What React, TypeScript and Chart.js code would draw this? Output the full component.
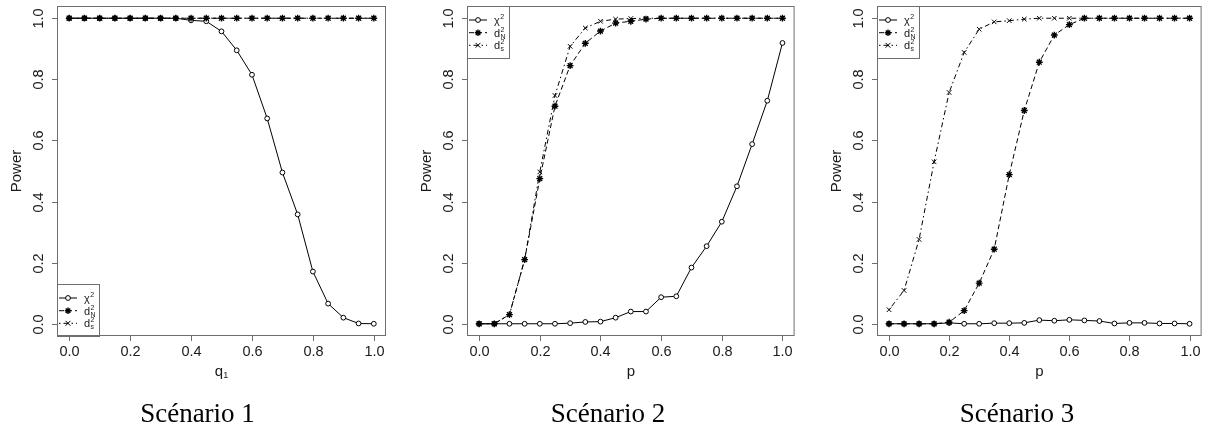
import { useEffect, useRef } from 'react';
import { Chart, registerables } from 'chart.js';

Chart.register(...registerables);

// ---------- data ----------
const X_VALUES = [0, 0.05, 0.1, 0.15, 0.2, 0.25, 0.3, 0.35, 0.4, 0.45, 0.5, 0.55, 0.6, 0.65, 0.7, 0.75, 0.8, 0.85, 0.9, 0.95, 1];
const X_TICKS = [0, 0.2, 0.4, 0.6, 0.8, 1];
const X_TICK_LABELS = ['0.0', '0.2', '0.4', '0.6', '0.8', '1.0'];
const Y_TICKS = [0, 0.2, 0.4, 0.6, 0.8, 1];
const Y_TICK_LABELS = ['0.0', '0.2', '0.4', '0.6', '0.8', '1.0'];

const S1_CHI2 = [1, 1, 1, 1, 1, 1, 1, 1, 0.993, 0.99, 0.957, 0.895, 0.815, 0.672, 0.495, 0.358, 0.171, 0.066, 0.02, 0.001, 0.0];
const S1_D2 = [1, 1, 1, 1, 1, 1, 1, 1, 1, 1, 1, 1, 1, 1, 1, 1, 1, 1, 1, 1, 1];
const S1_D2S = [1, 1, 1, 1, 1, 1, 1, 1, 1, 1, 1, 1, 1, 1, 1, 1, 1, 1, 1, 1, 1];

const S2_CHI2 = [0, 0, 0, 0, 0, 0, 0.002, 0.006, 0.007, 0.02, 0.04, 0.04, 0.087, 0.09, 0.184, 0.254, 0.334, 0.45, 0.588, 0.73, 0.919];
const S2_D2 = [0, 0, 0.03, 0.21, 0.475, 0.712, 0.845, 0.918, 0.958, 0.984, 0.99, 0.997, 1, 1, 1, 1, 1, 1, 1, 1, 1];
const S2_D2S = [0, 0, 0.03, 0.21, 0.497, 0.747, 0.908, 0.968, 0.99, 0.997, 0.999, 1, 1, 1, 1, 1, 1, 1, 1, 1, 1];

const S3_CHI2 = [0, 0, 0, 0, 0.003, 0, 0, 0.002, 0.002, 0.003, 0.012, 0.01, 0.013, 0.011, 0.009, 0.001, 0.003, 0.003, 0.001, 0.001, 0];
const S3_D2 = [0, 0, 0, 0, 0.005, 0.043, 0.133, 0.244, 0.488, 0.698, 0.856, 0.945, 0.979, 1, 1, 1, 1, 1, 1, 1, 1];
const S3_D2S = [0.046, 0.109, 0.276, 0.53, 0.757, 0.888, 0.964, 0.988, 0.992, 0.997, 1, 1, 1, 1, 1, 1, 1, 1, 1, 1, 1];

const LEGEND_MAIN = ['\u03C7', 'd', 'd'];
const LEGEND_SUP = ['2', '2', '2'];
const LEGEND_SUB = ['', 'N', 's'];

const CAPTIONS = ['Scénario 1', 'Scénario 2', 'Scénario 3'];
const X_TITLES = ['q', 'p', 'p'];
const X_TITLE_SUBS = ['1', '', ''];
const Y_TITLE = 'Power';

// ---------- styles ----------
const SANS = '"Liberation Sans", Arial, Helvetica, sans-serif';
const SERIF = '"Liberation Serif", "DejaVu Serif", serif';
const BOX_COLOR = '#6e6e6e';
const TEXT_COLOR = '#1a1a1a';
const DASH_SOLID: number[] = [];
const DASH_DASHED = [5, 3];
const DASH_DOTDASH = [1.5, 3, 5, 3];

type SeriesStyle = { dash: number[]; point: string };
const STYLES: SeriesStyle[] = [
  { dash: DASH_SOLID, point: 'circle' },
  { dash: DASH_DASHED, point: 'star' },
  { dash: DASH_DOTDASH, point: 'crossRot' },
];

function drawMarker(ctx: CanvasRenderingContext2D, kind: string, x: number, y: number) {
  ctx.save();
  ctx.setLineDash([]);
  ctx.strokeStyle = '#000';
  ctx.lineWidth = 1;
  if (kind === 'circle') {
    ctx.fillStyle = '#fff';
    ctx.beginPath();
    ctx.arc(x, y, 2.4, 0, Math.PI * 2);
    ctx.fill();
    ctx.stroke();
  } else if (kind === 'star') {
    const r = 3.2;
    ctx.lineWidth = 1.4;
    ctx.beginPath();
    ctx.moveTo(x - r, y); ctx.lineTo(x + r, y);
    ctx.moveTo(x, y - r); ctx.lineTo(x, y + r);
    const d = r * 0.707;
    ctx.moveTo(x - d, y - d); ctx.lineTo(x + d, y + d);
    ctx.moveTo(x - d, y + d); ctx.lineTo(x + d, y - d);
    ctx.stroke();
  } else {
    const d = 2.4;
    ctx.beginPath();
    ctx.moveTo(x - d, y - d); ctx.lineTo(x + d, y + d);
    ctx.moveTo(x - d, y + d); ctx.lineTo(x + d, y - d);
    ctx.stroke();
  }
  ctx.restore();
}

const rPlotPlugin = {
  id: 'rplot',
  afterDraw(chart: any, _args: any, opts: any) {
    const ctx: CanvasRenderingContext2D = chart.ctx;
    const { left, right, top, bottom } = chart.chartArea;
    const xs = chart.scales.x;
    const ys = chart.scales.y;
    ctx.save();
    // box
    ctx.strokeStyle = BOX_COLOR;
    ctx.lineWidth = 1;
    ctx.setLineDash([]);
    ctx.strokeRect(left + 0.5, top + 0.5, right - left - 1, bottom - top - 1);
    // x ticks
    ctx.fillStyle = TEXT_COLOR;
    ctx.font = `14.5px ${SANS}`;
    ctx.textAlign = 'center';
    ctx.textBaseline = 'middle';
    X_TICKS.forEach((v, i) => {
      const px = Math.round(xs.getPixelForValue(v)) + 0.5;
      ctx.beginPath();
      ctx.moveTo(px, bottom);
      ctx.lineTo(px, bottom + 5);
      ctx.stroke();
      ctx.fillText(X_TICK_LABELS[i], px, bottom + 16);
    });
    // y ticks
    Y_TICKS.forEach((v, i) => {
      const py = Math.round(ys.getPixelForValue(v)) + 0.5;
      ctx.beginPath();
      ctx.moveTo(left - 5, py);
      ctx.lineTo(left, py);
      ctx.stroke();
      ctx.save();
      ctx.translate(left - 18.5, py);
      ctx.rotate(-Math.PI / 2);
      ctx.fillText(Y_TICK_LABELS[i], 0, 0);
      ctx.restore();
    });
    // y title
    ctx.font = `15px ${SANS}`;
    ctx.save();
    ctx.translate(left - 40, (top + bottom) / 2);
    ctx.rotate(-Math.PI / 2);
    ctx.fillText(Y_TITLE, 0, 0);
    ctx.restore();
    // x title
    const cx = (left + right) / 2;
    const main = opts.xTitle as string;
    const sub = opts.xTitleSub as string;
    ctx.font = `15px ${SANS}`;
    const wMain = ctx.measureText(main).width;
    ctx.font = `9px ${SANS}`;
    const wSub = sub ? ctx.measureText(sub).width : 0;
    const startX = cx - (wMain + wSub) / 2;
    ctx.textAlign = 'left';
    ctx.textBaseline = 'alphabetic';
    ctx.font = `15px ${SANS}`;
    ctx.fillText(main, startX, bottom + 40);
    if (sub) {
      ctx.font = `9px ${SANS}`;
      ctx.fillText(sub, startX + wMain, bottom + 42);
    }
    // legend
    const lw = 42;
    const lh = 52;
    const lx = left;
    const ly = opts.legendBottom ? bottom - lh : top;
    ctx.strokeStyle = BOX_COLOR;
    ctx.strokeRect(lx + 0.5, ly + 0.5, lw, lh);
    const rows = [14, 26.7, 39.3];
    rows.forEach((ry, i) => {
      const yy = ly + ry;
      ctx.save();
      ctx.strokeStyle = '#000';
      ctx.lineWidth = 1;
      ctx.setLineDash(STYLES[i].dash);
      ctx.beginPath();
      ctx.moveTo(lx + 2, yy);
      ctx.lineTo(lx + 20, yy);
      ctx.stroke();
      ctx.restore();
      drawMarker(ctx, STYLES[i].point, lx + 11, yy);
      ctx.fillStyle = TEXT_COLOR;
      ctx.textAlign = 'left';
      ctx.textBaseline = 'alphabetic';
      ctx.font = `11px ${SANS}`;
      const tx = lx + 27;
      ctx.fillText(LEGEND_MAIN[i], tx, yy + 4);
      const mw = ctx.measureText(LEGEND_MAIN[i]).width;
      ctx.font = `7px ${SANS}`;
      ctx.fillText(LEGEND_SUP[i], tx + mw + 0.5, yy - 1);
      if (LEGEND_SUB[i]) ctx.fillText(LEGEND_SUB[i], tx + mw + 0.5, yy + 6);
    });
    // caption
    ctx.fillStyle = '#000';
    ctx.font = `27px ${SERIF}`;
    ctx.textAlign = 'center';
    ctx.textBaseline = 'alphabetic';
    ctx.fillText(opts.caption, opts.captionX, 422);
    ctx.restore();
  },
};

type PanelProps = {
  left: number;
  width: number;
  padLeft: number;
  padRight: number;
  chi2: number[];
  d2: number[];
  d2s: number[];
  idx: number;
  legendBottom: boolean;
  captionX: number;
};

const HEIGHT = 427;
const PLOT_TOP = 6;
const PLOT_BOTTOM = 336;

function Panel(p: PanelProps) {
  const ref = useRef<HTMLCanvasElement | null>(null);
  useEffect(() => {
    if (!ref.current) return;
    const series = [p.chi2, p.d2, p.d2s];
    const labels = ['chi2', 'd2', 'd2s'];
    const mk = (i: number) => {
      const st = STYLES[i];
      return {
        label: labels[i],
        data: X_VALUES.map((x, k) => ({ x, y: series[i][k] })),
        borderColor: '#000',
        borderWidth: 1,
        borderDash: st.dash,
        pointStyle: st.point,
        pointRadius: st.point === 'circle' ? 2.4 : st.point === 'star' ? 3.4 : 3.2,
        pointBorderWidth: st.point === 'star' ? 1.4 : 1,
        pointBorderColor: '#000',
        pointBackgroundColor: '#fff',
        fill: false,
        tension: 0,
      };
    };
    const chart = new Chart(ref.current, {
      type: 'line',
      data: { datasets: [mk(1), mk(2), mk(0)] as any },
      options: {
        responsive: false,
        animation: false,
        devicePixelRatio: 1,
        events: [],
        layout: {
          padding: { left: p.padLeft, right: p.padRight, top: PLOT_TOP, bottom: HEIGHT - PLOT_BOTTOM },
        },
        scales: {
          x: { type: 'linear', min: -0.04, max: 1.04, display: false },
          y: { type: 'linear', min: -0.04, max: 1.04, display: false },
        },
        plugins: {
          legend: { display: false },
          tooltip: { enabled: false },
          rplot: {
            xTitle: X_TITLES[p.idx],
            xTitleSub: X_TITLE_SUBS[p.idx],
            legendBottom: p.legendBottom,
            caption: CAPTIONS[p.idx],
            captionX: p.captionX,
          },
        } as any,
      },
      plugins: [rPlotPlugin],
    });
    return () => chart.destroy();
  }, []);
  return (
    <canvas
      ref={ref}
      width={p.width}
      height={HEIGHT}
      style={{ position: 'absolute', left: p.left, top: 0, width: p.width, height: HEIGHT }}
    />
  );
}

export default function App() {
  return (
    <div style={{ position: 'absolute', left: 0, top: 0, width: 1207, height: 427, background: '#fff', overflow: 'hidden' }}>
      <Panel left={0} width={400} padLeft={57} padRight={14} chi2={S1_CHI2} d2={S1_D2} d2s={S1_D2S} idx={0} legendBottom={true} captionX={197.5} />
      <Panel left={400} width={400} padLeft={67} padRight={4} chi2={S2_CHI2} d2={S2_D2} d2s={S2_D2S} idx={1} legendBottom={false} captionX={208} />
      <Panel left={800} width={407} padLeft={77} padRight={1} chi2={S3_CHI2} d2={S3_D2} d2s={S3_D2S} idx={2} legendBottom={false} captionX={217} />
    </div>
  );
}
